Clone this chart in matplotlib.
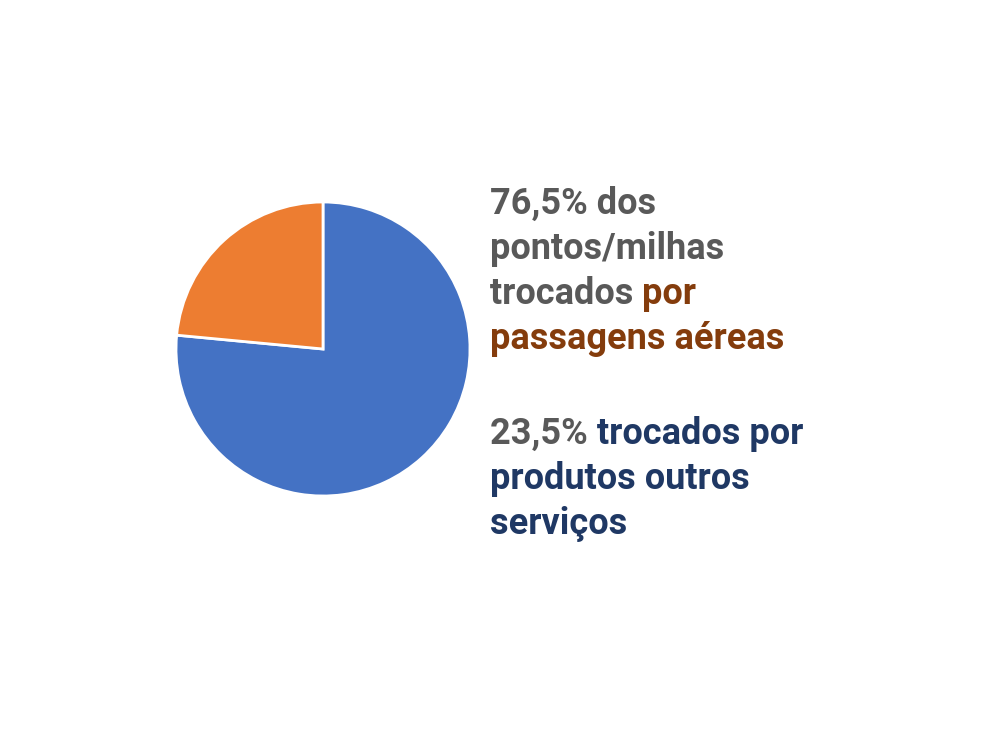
import matplotlib
matplotlib.use("Agg")
import matplotlib.pyplot as plt

# pie data
labels = ["Produtos e outros serviços", "Passagens aéreas"]
values = [76.5, 23.5]
colors = ["#4472C4", "#ED7D31"]

GRAY = "#595959"
BROWN = "#843C0C"
NAVY = "#1F3864"

# text lines: list of (piece, colour) per line, with baseline pixel y
lines = [
    ([("76,5% dos", GRAY)], 214),
    ([("pontos/milhas", GRAY)], 259),
    ([("trocados ", GRAY), ("por", BROWN)], 304),
    ([("passagens aéreas", BROWN)], 349),
    ([("23,5% ", GRAY), ("trocados por", NAVY)], 444),
    ([("produtos outros", NAVY)], 489),
    ([("serviços", NAVY)], 534),
]

W, H = 1000, 730
fig = plt.figure(figsize=(W / 100, H / 100), dpi=100)
fig.patch.set_facecolor("white")

# pie axes: centre ~ (323, 349), radius ~146 px
cx, cy, r = 323, 349, 147
ax = fig.add_axes([(cx - r) / W, (H - cy - r) / H, 2 * r / W, 2 * r / H])
ax.pie(values, colors=colors, startangle=90, counterclock=False, radius=1,
       wedgeprops=dict(edgecolor="white", linewidth=2))
ax.set_xlim(-1, 1)
ax.set_ylim(-1, 1)
ax.set_aspect("equal")
ax.axis("off")

renderer = fig.canvas.get_renderer()
x0 = 490
for pieces, ybase in lines:
    x = x0
    for txt, col in pieces:
        t = fig.text(x / W, 1 - ybase / H, txt, color=col, fontsize=26,
                     fontweight="bold", family="Roboto",
                     ha="left", va="baseline")
        bb = t.get_window_extent(renderer=renderer)
        x = bb.x1

fig.savefig("out.png", dpi=100, facecolor="white")
